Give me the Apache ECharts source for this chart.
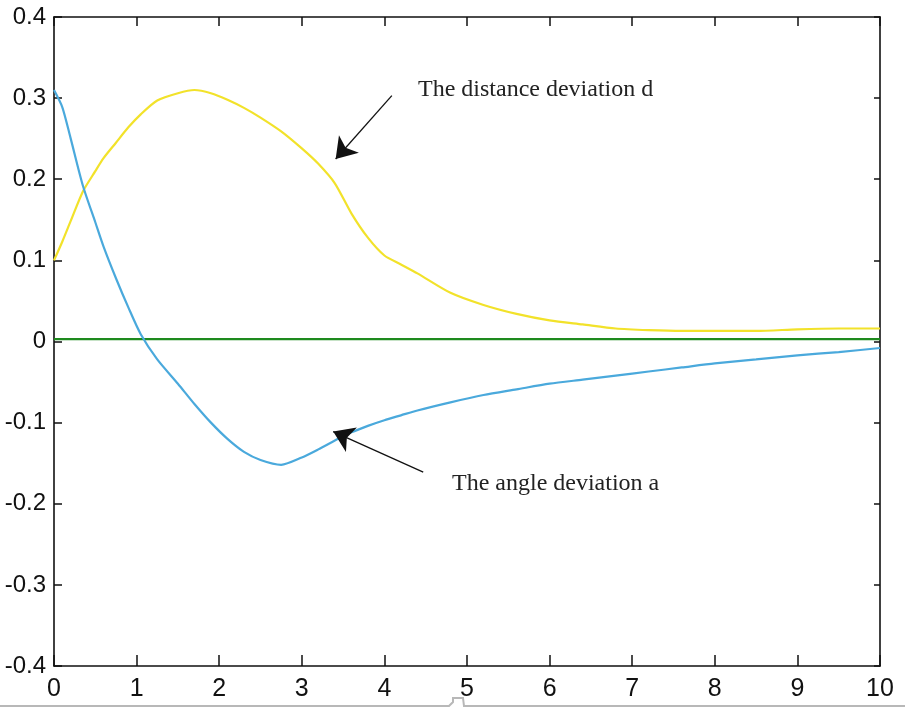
<!DOCTYPE html>
<html>
<head>
<meta charset="utf-8">
<script src="https://cdn.jsdelivr.net/npm/echarts@6/dist/echarts.min.js"></script>
<style>html,body{margin:0;padding:0;background:#fff;}#c{width:905px;height:708px;}</style>
</head>
<body>
<div id="c"></div>
<script>
const xValues = [0, 0.1, 0.2, 0.35, 0.5, 0.6, 0.75, 0.9, 1.05, 1.25, 1.5, 1.7, 1.9, 2.1, 2.3, 2.5, 2.75, 3.0, 3.2, 3.4, 3.6, 3.8, 4.0, 4.2, 4.4, 4.8, 5.2, 5.6, 6.0, 6.4, 6.8, 7.2, 7.6, 8.0, 8.5, 9.0, 9.5, 10];
const distanceD = [0.100, 0.123, 0.148, 0.185, 0.210, 0.226, 0.245, 0.264, 0.280, 0.297, 0.306, 0.310, 0.306, 0.298, 0.288, 0.276, 0.259, 0.238, 0.219, 0.195, 0.158, 0.128, 0.106, 0.095, 0.084, 0.060, 0.045, 0.034, 0.026, 0.021, 0.016, 0.014, 0.013, 0.013, 0.013, 0.015, 0.016, 0.016];
const angleA = [0.310, 0.289, 0.251, 0.192, 0.147, 0.117, 0.078, 0.042, 0.009, -0.022, -0.052, -0.077, -0.100, -0.120, -0.136, -0.146, -0.152, -0.143, -0.133, -0.122, -0.112, -0.104, -0.097, -0.091, -0.085, -0.075, -0.066, -0.059, -0.052, -0.047, -0.042, -0.037, -0.032, -0.027, -0.022, -0.017, -0.013, -0.008];
const zeroX = [0, 10];
const zeroY = [0.003, 0.003];
const xTicks = [0,1,2,3,4,5,6,7,8,9,10];
const yTicks = [-0.4,-0.3,-0.2,-0.1,0,0.1,0.2,0.3,0.4];
const labelD = 'The distance deviation d';
const labelA = 'The angle deviation a';
const arrowD = [[4.09, 0.303], [3.41, 0.225]];
const arrowA = [[4.47, -0.161], [3.38, -0.111]];

const pair = (xs, ys) => xs.map((x, i) => [x, ys[i]]);
const chart = echarts.init(document.getElementById('c'));
const tickFont = '"Liberation Sans", Arial, sans-serif';
const axisLine = { show: true, onZero: false, lineStyle: { color: '#111', width: 1.6 } };
const fmt = v => { const r = Math.round(v * 10) / 10; return r === 0 ? '0' : String(r); };
const arrowLine = (pts) => ({
  silent: true, symbol: ['none', 'arrow'], symbolSize: 20,
  lineStyle: { color: '#111', width: 1.3, type: 'solid' }, label: { show: false },
  data: [[{ coord: pts[0], symbol: 'none' }, { coord: pts[1], symbol: 'arrow', symbolSize: 20 }]]
});

chart.setOption({
  animation: false,
  backgroundColor: '#fff',
  grid: { left: 54, right: 25, top: 17, bottom: 42, containLabel: false },
  xAxis: [
    { type: 'value', position: 'bottom', min: xTicks[0], max: xTicks[xTicks.length-1], interval: 1,
      axisLine: axisLine, axisTick: { inside: true, length: 11, lineStyle: { color: '#111', width: 1.5 } },
      splitLine: { show: false },
      axisLabel: { margin: 11, fontFamily: tickFont, fontSize: 25, color: '#111', formatter: fmt } },
    { type: 'value', position: 'top', min: 0, max: 10, interval: 1,
      axisLine: axisLine, axisTick: { inside: true, length: 9, lineStyle: { color: '#111', width: 1.5 } },
      splitLine: { show: false }, axisLabel: { show: false } }
  ],
  yAxis: [
    { type: 'value', position: 'left', min: yTicks[0], max: yTicks[yTicks.length-1], interval: 0.1,
      axisLine: axisLine, axisTick: { inside: true, length: 8, lineStyle: { color: '#111', width: 1.5 } },
      splitLine: { show: false },
      axisLabel: { margin: 8, fontFamily: tickFont, fontSize: 24, color: '#111', formatter: fmt } },
    { type: 'value', position: 'right', min: -0.4, max: 0.4, interval: 0.1,
      axisLine: axisLine, axisTick: { inside: true, length: 6, lineStyle: { color: '#111', width: 1.5 } },
      splitLine: { show: false }, axisLabel: { show: false } }
  ],
  series: [
    { type: 'line', name: 'zero', data: pair(zeroX, zeroY), symbol: 'none', z: 2,
      lineStyle: { color: '#1e8a1e', width: 2.2 } },
    { type: 'line', name: 'd', data: pair(xValues, distanceD), symbol: 'none', smooth: 0.25, z: 3,
      lineStyle: { color: '#f2e22a', width: 2.2 }, markLine: arrowLine(arrowD) },
    { type: 'line', name: 'a', data: pair(xValues, angleA), symbol: 'none', smooth: 0.25, z: 3,
      lineStyle: { color: '#4aa9dc', width: 2.2 }, markLine: arrowLine(arrowA) }
  ],
  graphic: [
    { type: 'text', left: 418, top: 78, style: { text: labelD, font: '24px "Liberation Serif", "Times New Roman", serif', fill: '#222' } },
    { type: 'text', left: 452, top: 472, style: { text: labelA, font: '24px "Liberation Serif", "Times New Roman", serif', fill: '#222' } },
    { type: 'polyline', shape: { points: [[0, 706], [449, 706], [453, 702], [453, 698], [463, 698], [464, 706], [905, 706]] },
      style: { stroke: '#b8b8b8', lineWidth: 2, fill: null } }
  ]
});
</script>
</body>
</html>
